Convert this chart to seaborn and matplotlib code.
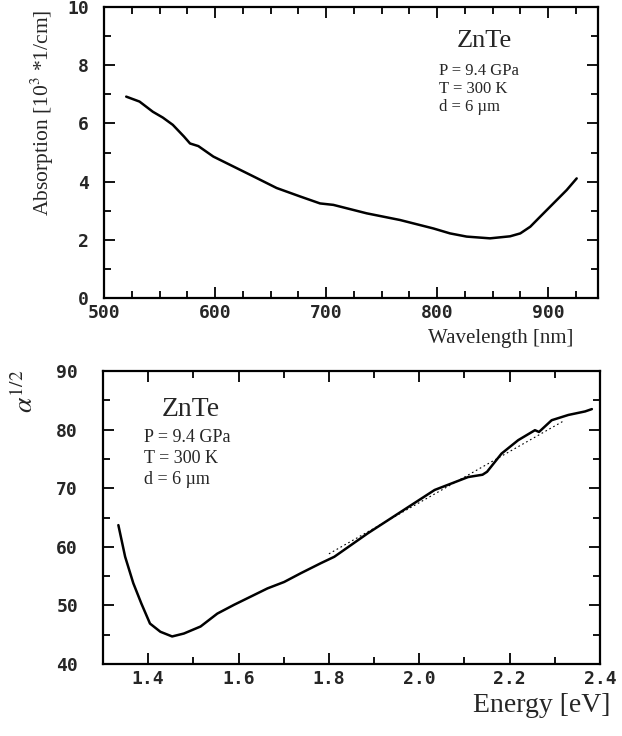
import numpy as np
import pandas as pd
import matplotlib
matplotlib.use("Agg")
import matplotlib.pyplot as plt
import seaborn as sns
from matplotlib.ticker import MultipleLocator

# ---- data ----
wavelength_nm = [520, 532, 544, 553, 562, 572, 577.5, 585, 598.5, 616.5, 634.5, 655.5,
                 676.6, 694.6, 706.6, 736.6, 766.7, 796.7, 811.7, 826.7, 847.7,
                 865.8, 875, 884, 892.8, 904.8, 916.8, 925.8]
absorption = [6.92, 6.75, 6.40, 6.20, 5.95, 5.55, 5.31, 5.22, 4.86, 4.52, 4.18, 3.78,
              3.49, 3.25, 3.20, 2.91, 2.68, 2.39, 2.22, 2.11, 2.05,
              2.12, 2.22, 2.45, 2.79, 3.25, 3.71, 4.11]

energy_eV = [1.334, 1.349, 1.367, 1.385, 1.404, 1.427, 1.453, 1.479, 1.516, 1.553,
             1.590, 1.627, 1.664, 1.701, 1.738, 1.782, 1.812, 1.886, 1.960, 2.034,
             2.108, 2.140, 2.150, 2.182, 2.219, 2.256, 2.265, 2.293, 2.330, 2.367, 2.382]
alpha_sqrt = [63.7, 58.3, 53.8, 50.3, 46.9, 45.5, 44.7, 45.2, 46.4, 48.6,
              50.1, 51.5, 52.9, 54.0, 55.5, 57.2, 58.3, 62.3, 66.0, 69.7,
              71.9, 72.3, 72.8, 75.9, 78.2, 79.9, 79.6, 81.6, 82.5, 83.1, 83.5]

fit_energy = [1.80, 2.32]
fit_alpha = [58.8, 81.5]

x_ticks_top = [500, 600, 700, 800, 900]
y_ticks_top = [0, 2, 4, 6, 8, 10]
x_ticks_bot = [1.4, 1.6, 1.8, 2.0, 2.2, 2.4]
y_ticks_bot = [40, 50, 60, 70, 80, 90]

sns.set_theme(style="ticks")
plt.rcParams["font.family"] = ["Liberation Serif", "DejaVu Serif"]
plt.rcParams["mathtext.fontset"] = "stix"

W, H = 622, 736
fig = plt.figure(figsize=(W / 100, H / 100), dpi=100)
fig.patch.set_facecolor("white")

ax1 = fig.add_axes([104 / W, 1 - 298 / H, 494 / W, 291 / H])
ax2 = fig.add_axes([103 / W, 1 - 664 / H, 497 / W, 293 / H])

df1 = pd.DataFrame({"wl": wavelength_nm, "abs": absorption})
df2 = pd.DataFrame({"E": energy_eV, "a": alpha_sqrt})
sns.lineplot(data=df1, x="wl", y="abs", ax=ax1, color="black", lw=1.8, sort=False)
sns.lineplot(data=df2, x="E", y="a", ax=ax2, color="black", lw=1.8, sort=False)
ax2.plot(fit_energy, fit_alpha, color="black", lw=0.8, ls=(0, (1.5, 2.5)))

tick_font = dict(family="DejaVu Sans Mono", weight="bold", size=13)

for ax in (ax1, ax2):
    ax.set_facecolor("white")
    for s in ax.spines.values():
        s.set_visible(True)
        s.set_linewidth(1.6)
        s.set_color("black")
    ax.tick_params(which="both", direction="in", top=True, right=True,
                   color="black", width=1.3)
    ax.tick_params(which="major", length=8)
    ax.tick_params(which="minor", length=5)
    ax.set_xlabel("")
    ax.set_ylabel("")
    ax.grid(False)

ax1.set_xlim(500, 945)
ax1.set_ylim(0, 10)
ax1.set_xticks(x_ticks_top)
ax1.set_yticks(y_ticks_top)
ax1.xaxis.set_minor_locator(MultipleLocator(25))
ax1.yaxis.set_minor_locator(MultipleLocator(1))
ax1.tick_params(axis="x", pad=4)
ax1.tick_params(axis="y", pad=11)

ax2.set_xlim(1.3, 2.4)
ax2.set_ylim(40, 90)
ax2.set_xticks(x_ticks_bot)
ax2.set_xticklabels([f"{v:.1f}" for v in x_ticks_bot])
ax2.set_yticks(y_ticks_bot)
ax2.xaxis.set_minor_locator(MultipleLocator(0.1))
ax2.yaxis.set_minor_locator(MultipleLocator(5))
ax2.tick_params(axis="x", pad=4)
ax2.tick_params(axis="y", pad=18)

for ax in (ax1, ax2):
    for lab in ax.get_xticklabels() + ax.get_yticklabels():
        lab.set_fontfamily(tick_font["family"])
        lab.set_fontweight(tick_font["weight"])
        lab.set_fontsize(tick_font["size"])

# axis labels
fig.text(42 / W, 1 - 10 / H, r"Absorption [10$^3$ *1/cm]", rotation=90,
         ha="center", va="top", fontsize=15.5)
fig.text(573 / W, 1 - 339 / H, "Wavelength [nm]", ha="right", va="center", fontsize=15)
fig.text(25 / W, 1 - 370 / H, r"$\alpha^{1/2}$", rotation=90,
         ha="center", va="top", fontsize=20)
fig.text(610 / W, 1 - 706 / H, "Energy [eV]", ha="right", va="center", fontsize=20)

# annotations top
fig.text(484 / W, 1 - 41 / H, "ZnTe", ha="center", va="center", fontsize=19)
fig.text(439 / W, 1 - 71 / H, "P = 9.4 GPa", ha="left", va="center", fontsize=12)
fig.text(439 / W, 1 - 89 / H, "T = 300 K", ha="left", va="center", fontsize=12)
fig.text(439 / W, 1 - 107 / H, "d = 6 µm", ha="left", va="center", fontsize=12)

# annotations bottom
fig.text(191 / W, 1 - 410 / H, "ZnTe", ha="center", va="center", fontsize=20)
fig.text(144 / W, 1 - 438 / H, "P = 9.4 GPa", ha="left", va="center", fontsize=13)
fig.text(144 / W, 1 - 458 / H, "T = 300 K", ha="left", va="center", fontsize=13)
fig.text(144 / W, 1 - 479 / H, "d = 6 µm", ha="left", va="center", fontsize=13)

fig.savefig("out.png", dpi=100, facecolor="white")
